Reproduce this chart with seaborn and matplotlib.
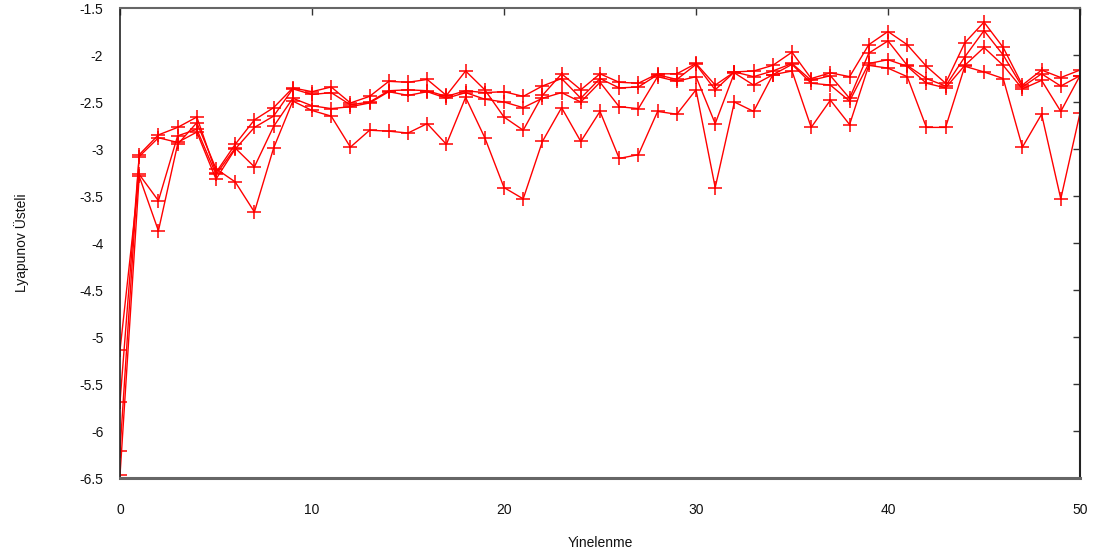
import matplotlib
matplotlib.use("Agg")
import matplotlib.pyplot as plt
import seaborn as sns
import pandas as pd
import numpy as np

# Iteration index and Lyapunov exponent estimates for four runs
iterations = list(range(51))

run_a = [-6.21, -3.06, -2.85, -2.77, -2.66, -3.25, -2.95, -2.69, -2.56, -2.35,
         -2.39, -2.34, -2.51, -2.44, -2.28, -2.29, -2.26, -2.43, -2.17, -2.37,
         -2.66, -2.80, -2.43, -2.20, -2.37, -2.20, -2.29, -2.30, -2.20, -2.20,
         -2.09, -2.32, -2.18, -2.17, -2.11, -1.97, -2.25, -2.19, -2.23, -1.89,
         -1.75, -1.89, -2.12, -2.30, -1.87, -1.65, -1.92, -2.32, -2.16, -2.24,
         -2.16]
run_b = [-5.69, -3.08, -2.88, -2.93, -2.82, -3.32, -3.00, -2.77, -2.65, -2.36,
         -2.42, -2.40, -2.53, -2.50, -2.38, -2.37, -2.38, -2.44, -2.38, -2.40,
         -2.39, -2.44, -2.33, -2.25, -2.46, -2.25, -2.35, -2.34, -2.21, -2.26,
         -2.10, -2.37, -2.18, -2.23, -2.17, -2.09, -2.27, -2.22, -2.46, -1.98,
         -1.85, -2.11, -2.25, -2.33, -2.02, -1.74, -2.00, -2.34, -2.20, -2.33,
         -2.22]
run_c = [-5.14, -3.27, -3.55, -2.86, -2.79, -3.27, -2.99, -3.19, -2.76, -2.46,
         -2.54, -2.57, -2.55, -2.51, -2.39, -2.43, -2.39, -2.46, -2.40, -2.47,
         -2.50, -2.56, -2.46, -2.40, -2.50, -2.29, -2.55, -2.57, -2.23, -2.28,
         -2.23, -2.73, -2.19, -2.32, -2.21, -2.10, -2.30, -2.32, -2.49, -2.09,
         -2.05, -2.12, -2.30, -2.35, -2.11, -1.92, -2.11, -2.36, -2.27, -2.60,
         -2.22]
run_d = [-6.47, -3.29, -3.87, -2.95, -2.72, -3.21, -3.35, -3.67, -2.99, -2.49,
         -2.59, -2.65, -2.98, -2.80, -2.81, -2.83, -2.73, -2.95, -2.45, -2.88,
         -3.41, -3.53, -2.92, -2.56, -2.92, -2.60, -3.10, -3.06, -2.60, -2.63,
         -2.37, -3.41, -2.50, -2.60, -2.21, -2.17, -2.77, -2.48, -2.74, -2.11,
         -2.14, -2.23, -2.77, -2.77, -2.12, -2.18, -2.25, -2.98, -2.63, -3.53,
         -2.62]

x_ticks = [0, 10, 20, 30, 40, 50]
y_ticks = [-6.5, -6, -5.5, -5, -4.5, -4, -3.5, -3, -2.5, -2, -1.5]
y_tick_labels = ["-6.5", "-6", "-5.5", "-5", "-4.5", "-4", "-3.5", "-3", "-2.5", "-2", "-1.5"]

runs = {"a": run_a, "b": run_b, "c": run_c, "d": run_d}
df = pd.concat(
    [pd.DataFrame({"Yinelenme": iterations, "Lyapunov": vals, "run": name})
     for name, vals in runs.items()],
    ignore_index=True,
)

sns.set_style("white")
plt.rcParams["font.family"] = ["Liberation Sans", "DejaVu Sans"]

fig = plt.figure(figsize=(10.99, 5.53), dpi=100)
ax = fig.add_axes([0.1092, 0.1356, 0.8735, 0.8499])

sns.lineplot(data=df, x="Yinelenme", y="Lyapunov", hue="run", units="run",
             estimator=None, palette=["#ff0000"] * 4, marker="+",
             markersize=10, markeredgewidth=1.1, markeredgecolor="#ff0000",
             linewidth=1.0, legend=False, ax=ax)

ax.set_xlim(0, 50)
ax.set_ylim(-6.5, -1.5)
ax.set_xticks(x_ticks)
ax.set_xticklabels([str(t) for t in x_ticks])
ax.set_yticks(y_ticks)
ax.set_yticklabels(y_tick_labels)

ax.tick_params(axis="both", direction="in", length=5, width=1, colors="#333333",
               labelcolor="#111111", labelsize=10, top=True, right=True,
               labeltop=False, labelright=False)
ax.tick_params(axis="x", pad=18)
ax.tick_params(axis="y", pad=12)

for side in ["left", "right", "top", "bottom"]:
    ax.spines[side].set_visible(True)
ax.spines["left"].set_color("#222222")
ax.spines["left"].set_linewidth(1.2)
ax.spines["right"].set_color("#222222")
ax.spines["right"].set_linewidth(1.5)
ax.spines["top"].set_color("#666666")
ax.spines["top"].set_linewidth(1.5)
ax.spines["bottom"].set_color("#666666")
ax.spines["bottom"].set_linewidth(2.2)

ax.set_xlabel("Yinelenme", fontsize=10, color="#111111", labelpad=14)
ax.set_ylabel("Lyapunov Üsteli", fontsize=10, color="#111111", labelpad=36)

fig.savefig("out.png", dpi=100, facecolor="white")
